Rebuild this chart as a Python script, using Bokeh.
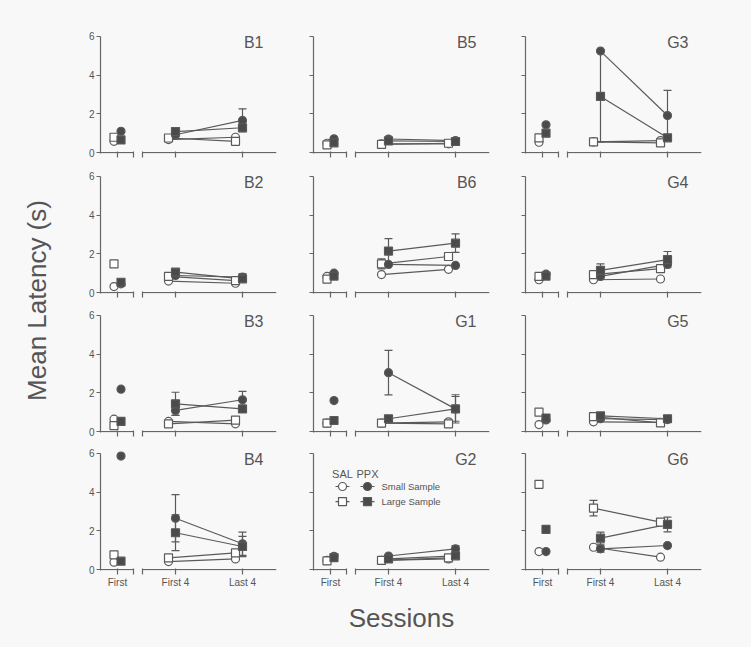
import math
from bokeh.plotting import figure
from bokeh.models import LinearAxis, FixedTicker, Range1d
from bokeh.layouts import row, column
from bokeh.embed import file_html
from bokeh.resources import INLINE
from bokeh.core.properties import value

# ---------------- data ----------------
sessions = ["First", "First 4", "Last 4"]
panels = ["B1", "B5", "G3",
          "B2", "B6", "G4",
          "B3", "G1", "G5",
          "B4", "G2", "G6"]
y_ticks = [0, 2, 4, 6]

# mean latency (s) per panel, in session order
sal_small = {"B1": [0.58, 0.67, 0.79], "B5": [0.48, 0.45, 0.45], "G3": [0.53, 0.55, 0.62],
             "B2": [0.31, 0.59, 0.48], "B6": [0.83, 0.93, 1.20], "G4": [0.66, 0.66, 0.70],
             "B3": [0.64, 0.52, 0.40], "G1": [0.43, 0.43, 0.50], "G5": [0.36, 0.50, 0.47],
             "B4": [0.38, 0.41, 0.55], "G2": [0.47, 0.47, 0.55], "G6": [0.93, 1.15, 0.64]}
sal_large = {"B1": [0.79, 0.75, 0.58], "B5": [0.40, 0.42, 0.48], "G3": [0.76, 0.55, 0.50],
             "B2": [1.48, 0.83, 0.62], "B6": [0.69, 1.48, 1.86], "G4": [0.83, 0.92, 1.23],
             "B3": [0.31, 0.40, 0.59], "G1": [0.43, 0.43, 0.40], "G5": [1.00, 0.77, 0.45],
             "B4": [0.76, 0.60, 0.86], "G2": [0.45, 0.47, 0.60], "G6": [4.40, 3.17, 2.45]}
ppx_small = {"B1": [1.10, 0.92, 1.66], "B5": [0.71, 0.70, 0.62], "G3": [1.43, 5.24, 1.91],
             "B2": [0.45, 0.88, 0.80], "B6": [1.00, 1.45, 1.40], "G4": [0.95, 0.83, 1.45],
             "B3": [2.19, 1.09, 1.64], "G1": [1.60, 3.04, 1.17], "G5": [0.60, 0.66, 0.62],
             "B4": [5.86, 2.65, 1.33], "G2": [0.68, 0.70, 1.07], "G6": [0.93, 1.07, 1.24]}
ppx_large = {"B1": [0.65, 1.08, 1.28], "B5": [0.50, 0.60, 0.57], "G3": [1.00, 2.90, 0.76],
             "B2": [0.53, 1.05, 0.71], "B6": [0.85, 2.14, 2.55], "G4": [0.85, 1.14, 1.70],
             "B3": [0.52, 1.43, 1.17], "G1": [0.57, 0.66, 1.17], "G5": [0.70, 0.81, 0.66],
             "B4": [0.43, 1.90, 1.19], "G2": [0.62, 0.55, 0.71], "G6": [2.07, 1.62, 2.33]}

# SEM (only where visible beyond the marker)
sem_sal_small = {}
sem_sal_large = {"B6": [0, 0.26, 0], "G6": [0, 0.40, 0]}
sem_ppx_small = {"B1": [0, 0.10, 0.60], "G3": [0, 0, 1.30], "B2": [0, 0, 0.18],
                 "B3": [0, 0.25, 0.43], "G1": [0, 1.15, 0.73], "B4": [0, 1.22, 0.60],
                 "G2": [0, 0, 0.17], "G6": [0, 0.17, 0]}
sem_ppx_large = {"G3": [0, 2.35, 0], "B6": [0, 0.64, 0.48], "G4": [0, 0.34, 0.42],
                 "B3": [0, 0.60, 0], "G1": [0, 0, 0.64], "B4": [0, 0.92, 0.52],
                 "G6": [0, 0.31, 0.38]}

legend_groups = ["SAL", "PPX"]
legend_sizes = ["Small Sample", "Large Sample"]

# ---------------- style / layout ----------------
BG = "#f8f8f8"
AX = "#666666"
TXT = "#555555"
LINE = "#5a5a5a"
FILL = "#4b4b4b"
FONT = "Liberation Sans"

FRAME_W, FRAME_H = 176, 121
Y_MIN, Y_MAX = -0.05, 6.2
SESSION_X = {"First": 17, "First 4": 75, "Last 4": 142}
BREAK_L, BREAK_R = 33, 42
OFFSET = {("SAL", True): -3.5, ("PPX", True): 3.5, ("SAL", False): -7, ("PPX", False): 0}
CAP = 4
MSIZE = 8

LEFTS = [30, 30, 30]
RIGHTS = [7, 6, 50]
TOPS = [32, 10, 10, 10]
BOTTOMS = [9, 8, 7, 25]

series = [
    ("SAL", sal_small, sem_sal_small, "circle", "white"),
    ("SAL", sal_large, sem_sal_large, "square", "white"),
    ("PPX", ppx_small, sem_ppx_small, "circle", FILL),
    ("PPX", ppx_large, sem_ppx_large, "square", FILL),
]


def style_axis(ax, labels_on):
    ax.major_tick_line_color = AX
    ax.major_tick_line_width = 1.2
    ax.major_tick_in = 0
    ax.major_tick_out = 4
    ax.minor_tick_line_color = None
    ax.major_label_standoff = 2 if labels_on else 0
    ax.major_label_text_color = TXT if labels_on else None
    ax.major_label_text_font = FONT
    ax.major_label_text_font_size = "10px"


def make_panel(idx, name):
    r, c = divmod(idx, 3)
    L, R, T, B = LEFTS[c], RIGHTS[c], TOPS[r], BOTTOMS[r]
    p = figure(width=L + FRAME_W + R, height=T + FRAME_H + B,
               frame_width=FRAME_W, frame_height=FRAME_H,
               x_range=Range1d(0, FRAME_W), y_range=Range1d(Y_MIN, Y_MAX),
               x_axis_location=None, y_axis_location=None,
               toolbar_location=None, output_backend="svg", title=None,
               min_border_left=L, min_border_right=R,
               min_border_top=T, min_border_bottom=B,
               background_fill_color=BG, border_fill_color=BG,
               outline_line_color=None)
    p.grid.visible = False

    # y axis
    yax = LinearAxis(bounds=(Y_MIN, 6), ticker=FixedTicker(ticks=y_ticks))
    yax.major_label_overrides = {t: str(t) for t in y_ticks}
    style_axis(yax, c == 0)
    yax.axis_line_color = AX
    yax.axis_line_width = 1.2
    p.add_layout(yax, "left")

    # broken x axis: ticks from one axis, line drawn in two pieces at y = 0
    show = (r == 3)
    x_ticks = [SESSION_X["First"], BREAK_L, BREAK_R, SESSION_X["First 4"], SESSION_X["Last 4"]]
    xax = LinearAxis(ticker=FixedTicker(ticks=x_ticks))
    xax.major_label_overrides = {SESSION_X["First"]: "First", BREAK_L: "", BREAK_R: "",
                                 SESSION_X["First 4"]: "First 4", SESSION_X["Last 4"]: "Last 4"}
    style_axis(xax, show)
    xax.major_tick_in = 2
    xax.axis_line_color = None
    p.add_layout(xax, "below")
    p.segment(x0=[0, BREAK_R], y0=[0, 0], x1=[BREAK_L, FRAME_W], y1=[0, 0],
              line_color=AX, line_width=1.2)

    # data
    prepared = []
    for grp, means, sems, marker, fill in series:
        ys = means[name]
        ss = sems.get(name, [0, 0, 0])
        xs = [SESSION_X[s] + OFFSET[(grp, s == "First")] for s in sessions]
        prepared.append((xs, ys, ss, marker, fill))

    for xs, ys, ss, marker, fill in prepared:
        p.line(xs[1:], ys[1:], line_color=LINE, line_width=1.2)

    for xs, ys, ss, marker, fill in prepared:
        for x, y, s in zip(xs, ys, ss):
            if s <= 0:
                continue
            lo, hi = max(y - s, 0), min(y + s, 6)
            p.segment(x0=[x], y0=[lo], x1=[x], y1=[hi], line_color=LINE, line_width=1.2)
            caps_y = [v for v in (lo, hi) if 0 < v <= 6]
            p.segment(x0=[x - CAP] * len(caps_y), y0=caps_y,
                      x1=[x + CAP] * len(caps_y), y1=caps_y,
                      line_color=LINE, line_width=1.2)

    for xs, ys, ss, marker, fill in prepared:
        p.scatter(xs, ys, marker=marker, size=MSIZE, fill_color=fill,
                  line_color=LINE, line_width=1.2)

    # panel label
    p.text(x=[163], y=[5.7], text=[name], text_align="right", text_baseline="middle",
           text_font=value(FONT), text_font_size=value("16px"), text_color=TXT)

    # legend inside G2
    if name == "G2":
        lx = {"SAL": 29, "PPX": 54}
        ly = {"Small Sample": 4.29, "Large Sample": 3.51}
        p.text(x=[lx[g] for g in legend_groups], y=[4.91] * 2, text=legend_groups,
               text_align="center", text_baseline="middle",
               text_font=value(FONT), text_font_size=value("11px"), text_color=TXT)
        for grp, means, sems, marker, fill in series:
            size_name = "Small Sample" if marker == "circle" else "Large Sample"
            x0, y0 = lx[grp], ly[size_name]
            p.segment(x0=[x0 - 7], y0=[y0], x1=[x0 + 7], y1=[y0], line_color=LINE, line_width=1.2)
            p.scatter([x0], [y0], marker=marker, size=MSIZE, fill_color=fill,
                      line_color=LINE, line_width=1.2)
        p.text(x=[68] * 2, y=[ly[s] for s in legend_sizes], text=legend_sizes,
               text_align="left", text_baseline="middle",
               text_font=value(FONT), text_font_size=value("9.5px"), text_color=TXT)
    return p


figs = [make_panel(i, n) for i, n in enumerate(panels)]
BG_STYLE = {"background-color": BG}
grid_rows = [row(*figs[i * 3:(i + 1) * 3], styles=BG_STYLE) for i in range(4)]

grid_w = sum(LEFTS) + 3 * FRAME_W + sum(RIGHTS)
grid_h = sum(TOPS) + 4 * FRAME_H + sum(BOTTOMS)
XL_H = 52
YL_W = 70


def blank(w, h):
    f = figure(width=w, height=h, x_range=Range1d(0, w), y_range=Range1d(0, h),
               x_axis_location=None, y_axis_location=None, toolbar_location=None,
               output_backend="svg", title=None, min_border=0,
               background_fill_color=BG, border_fill_color=BG, outline_line_color=None)
    f.grid.visible = False
    return f


xlab = blank(grid_w, XL_H)
xlab.text(x=[331], y=[XL_H - 22], text=["Sessions"], text_align="center", text_baseline="middle",
          text_font=value(FONT), text_font_size=value("26px"), text_color=TXT)

ylab = blank(YL_W, grid_h + XL_H)
ylab.text(x=[36], y=[grid_h + XL_H - 300], text=["Mean Latency (s)"], angle=math.pi / 2,
          text_align="center", text_baseline="middle",
          text_font=value(FONT), text_font_size=value("26px"), text_color=TXT)

layout = row(ylab, column(*grid_rows, xlab, styles=BG_STYLE), styles=BG_STYLE)

open("out.html", "w").write(file_html(layout, INLINE))
